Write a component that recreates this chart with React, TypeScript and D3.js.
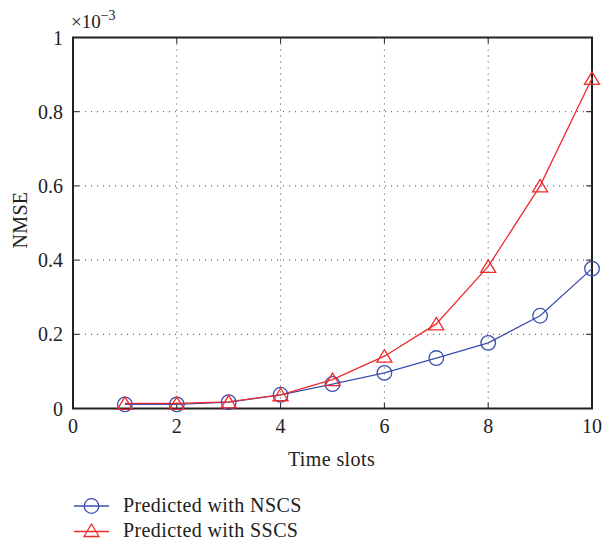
import React from "react";
import * as d3 from "d3";

const xs = [1, 2, 3, 4, 5, 6, 7, 8, 9, 10];
const nscs = [0.011, 0.011, 0.017, 0.037, 0.066, 0.096, 0.136, 0.177, 0.25, 0.377];
const sscs = [0.014, 0.014, 0.018, 0.037, 0.078, 0.141, 0.228, 0.383, 0.6, 0.89];
const xTicks = [0, 2, 4, 6, 8, 10];
const yTicks = [0, 0.2, 0.4, 0.6, 0.8, 1];
const seriesNames = ["Predicted with NSCS", "Predicted with SSCS"];

const BLUE = "#3a4fb0";
const RED = "#ee2b2b";
const FONT = "'Liberation Serif', 'Times New Roman', serif";

export default function App() {
  const W = 602, H = 541;
  const L = 73, R = 592, T = 37.5, B = 408.5;
  const x = d3.scaleLinear().domain([0, 10]).range([L, R]);
  const y = d3.scaleLinear().domain([0, 1]).range([B, T]);
  const line = d3.line<number>().x((_, i) => x(xs[i])).y((d) => y(d));
  const tri = (cx: number, cy: number, s = 7.5) =>
    `M${cx},${cy - 6.5}L${cx + s},${cy + 6}L${cx - s},${cy + 6}Z`;
  const tickLen = 6;
  return (
    <svg width={W} height={H} style={{ position: "absolute", left: 0, top: 0 }} fontFamily={FONT}>
      <rect width={W} height={H} fill="#fff" />
      {/* grid */}
      {xTicks.slice(1, -1).map((t) => (
        <line key={"gx" + t} x1={x(t)} x2={x(t)} y1={T} y2={B} stroke="#444" strokeWidth={1} strokeDasharray="1,5" />
      ))}
      {yTicks.slice(1, -1).map((t) => (
        <line key={"gy" + t} x1={L} x2={R} y1={y(t)} y2={y(t)} stroke="#444" strokeWidth={1} strokeDasharray="1,5" />
      ))}
      {/* ticks */}
      {xTicks.map((t) => (
        <g key={"tx" + t}>
          <line x1={x(t)} x2={x(t)} y1={B} y2={B - tickLen} stroke="#222" />
          <line x1={x(t)} x2={x(t)} y1={T} y2={T + tickLen} stroke="#222" />
          <text x={x(t)} y={B + 24.5} textAnchor="middle" fontSize={20} fill="#222">{t}</text>
        </g>
      ))}
      {yTicks.map((t) => (
        <g key={"ty" + t}>
          <line x1={L} x2={L + tickLen} y1={y(t)} y2={y(t)} stroke="#222" />
          <line x1={R} x2={R - tickLen} y1={y(t)} y2={y(t)} stroke="#222" />
          <text x={L - 10} y={y(t) + 7} textAnchor="end" fontSize={20} fill="#222">{t === 0 || t === 1 ? t : t.toFixed(1)}</text>
        </g>
      ))}
      <rect x={L} y={T} width={R - L} height={B - T} fill="none" stroke="#222" strokeWidth={2} />
      <text x={71} y={28} fontSize={19} fill="#222">
        ×10<tspan dy={-8} fontSize={14}>−3</tspan>
      </text>
      {/* series */}
      <path d={line(nscs) || ""} fill="none" stroke={BLUE} strokeWidth={1.3} />
      <path d={line(sscs) || ""} fill="none" stroke={RED} strokeWidth={1.3} />
      {nscs.map((v, i) => (
        <circle key={"c" + i} cx={x(xs[i])} cy={y(v)} r={7.3} fill="none" stroke={BLUE} strokeWidth={1.3} />
      ))}
      {sscs.map((v, i) => (
        <path key={"t" + i} d={tri(x(xs[i]), y(v))} fill="none" stroke={RED} strokeWidth={1.3} />
      ))}
      {/* axis labels */}
      <text x={331.5} y={466} textAnchor="middle" fontSize={20} letterSpacing={0.4} fill="#222">Time slots</text>
      <text transform={`translate(27,${220}) rotate(-90)`} textAnchor="middle" fontSize={20} letterSpacing={0.3} fill="#222">NMSE</text>
      {/* legend */}
      {seriesNames.map((n, i) => {
        const ly = 506 + i * 25.5;
        const col = i === 0 ? BLUE : RED;
        return (
          <g key={n}>
            <line x1={74} x2={109} y1={ly} y2={ly} stroke={col} strokeWidth={1.3} />
            {i === 0 ? (
              <circle cx={91.5} cy={ly} r={7.3} fill="none" stroke={col} strokeWidth={1.3} />
            ) : (
              <path d={tri(91.5, ly - 1)} fill="none" stroke={col} strokeWidth={1.3} />
            )}
            <text x={123} y={ly + 5.5} fontSize={20} letterSpacing={0.4} fill="#222">{n}</text>
          </g>
        );
      })}
    </svg>
  );
}
